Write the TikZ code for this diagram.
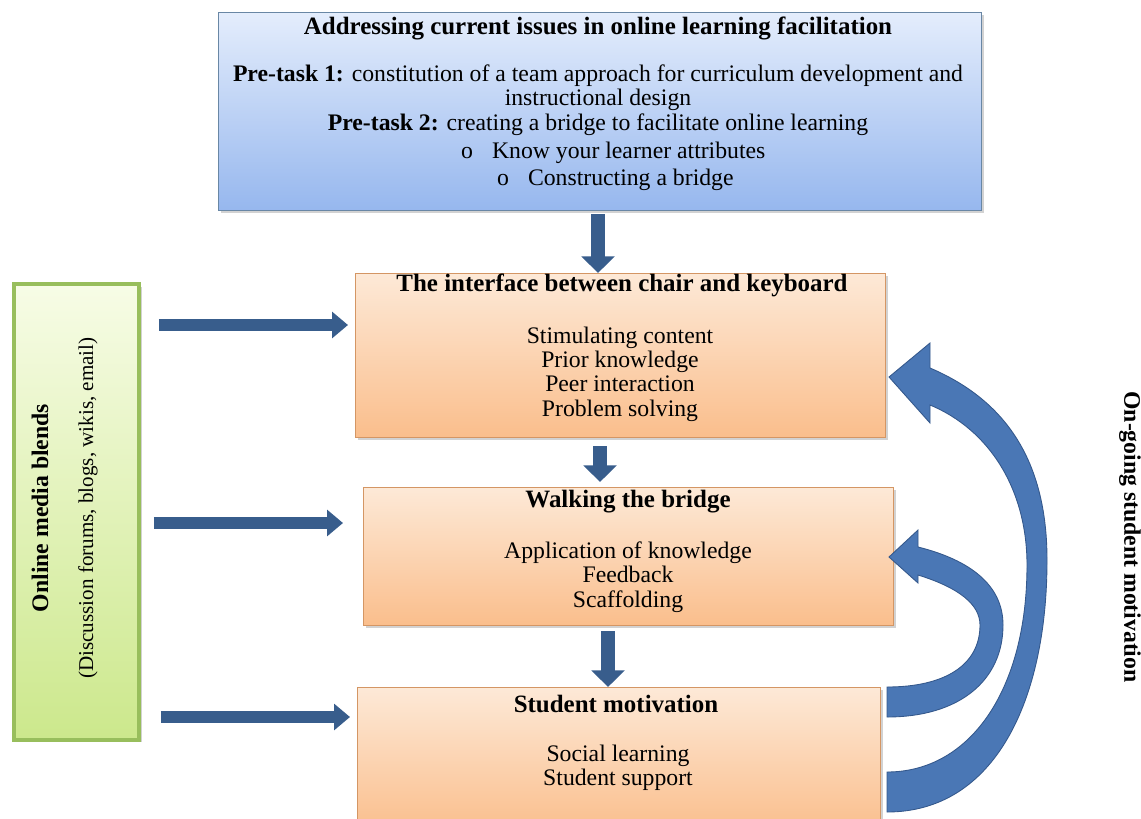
\documentclass[tikz,border=0pt]{standalone}
\usepackage{fontspec}
\setmainfont{Liberation Serif}
\usetikzlibrary{arrows.meta,positioning,shadows}

\definecolor{navyarrow}{RGB}{56,93,140}
\definecolor{curvearrow}{RGB}{74,119,181}
\definecolor{curveline}{RGB}{52,88,140}
\definecolor{bluetop}{RGB}{228,237,252}
\definecolor{bluebot}{RGB}{150,183,238}
\definecolor{blueline}{RGB}{105,135,165}
\definecolor{orangetop}{RGB}{253,233,215}
\definecolor{orangebot}{RGB}{250,190,140}
\definecolor{orangeline}{RGB}{212,150,100}
\definecolor{greentop}{RGB}{247,252,230}
\definecolor{greenbot}{RGB}{204,232,140}
\definecolor{greenline}{RGB}{152,190,92}

\tikzset{
  panel/.style={rectangle, anchor=north west, inner sep=0pt,
    drop shadow={shadow xshift=1.5pt, shadow yshift=-1.5pt, opacity=0.35}},
  issuebox/.style={panel, draw=blueline, line width=0.8pt,
    top color=bluetop, bottom color=bluebot},
  stagebox/.style={panel, draw=orangeline, line width=0.6pt,
    top color=orangetop, bottom color=orangebot},
  mediabox/.style={panel, draw=greenline, line width=2.2pt,
    top color=greentop, bottom color=greenbot},
  boxtitle/.style={font=\fontsize{14.2}{15}\selectfont\bfseries},
  boxtext/.style={align=center, font=\fontsize{13.5}{13.9}\selectfont},
  sidetitle/.style={font=\fontsize{13.5}{15}\selectfont\bfseries},
  downarrow/.style={draw=navyarrow, line width=7.5pt,
    -{Triangle[width=18.5pt,length=9.5pt]}},
  sidearrow/.style={draw=navyarrow, line width=6.8pt,
    -{Triangle[width=14.5pt,length=9pt]}},
  backarrow/.style={fill=curvearrow, draw=curveline, line width=0.5pt},
}

\begin{document}
\begin{tikzpicture}[x=0.02cm,y=-0.02cm]
\fill[white] (0,0) rectangle (1141,818);
\clip (0,0) rectangle (1141,818);

% boxes
\node[issuebox, minimum width=15.26cm, minimum height=3.96cm] (issues) at (218,12) {};
\node[stagebox, minimum width=10.6cm, minimum height=3.28cm] (chair) at (355,273) {};
\node[stagebox, minimum width=10.6cm, minimum height=2.76cm] (bridge) at (363,487) {};
\node[stagebox, minimum width=10.46cm, minimum height=2.9cm] (motive) at (357,687) {};
\node[mediabox, minimum width=2.5cm, minimum height=9.12cm] (media) at (12,282) {};

% top box text
\node[boxtitle] (issuestitle) at (598,28) {Addressing current issues in online learning facilitation};
\node[boxtext] (pretasks) at (598,100) {\textbf{Pre-task 1:} constitution of a team approach for curriculum development and\\
  instructional design\\
  \textbf{Pre-task 2:} creating a bridge to facilitate online learning};
\node[boxtext, anchor=west] (bullet1) at (455,153) {o\hspace{0.38cm}Know your learner attributes};
\node[boxtext, anchor=west] (bullet2) at (491,180) {o\hspace{0.38cm}Constructing a bridge};

% stage texts
\node[boxtitle] (chairtitle) at (622,285) {The interface between chair and keyboard};
\node[boxtext] (chairtext) at (620,374) {Stimulating content\\ Prior knowledge\\ Peer interaction\\ Problem solving};
\node[boxtitle] (bridgetitle) at (628,502) {Walking the bridge};
\node[boxtext] (bridgetext) at (628,577) {Application of knowledge\\ Feedback\\ Scaffolding};
\node[boxtitle] (motivetitle) at (616,704) {Student motivation};
\node[boxtext] (motivetext) at (618,768) {Social learning\\ Student support};

% side labels
\node[sidetitle, rotate=90] (mediatitle) at (40,508) {Online media blends};
\node[rotate=90, font=\fontsize{12}{14}\selectfont] (mediatext) at (88,508) {(Discussion forums, blogs, wikis, email)};
\node[sidetitle, rotate=-90] (ongoing) at (1130,537) {On-going student motivation};

% straight arrows
\coordinate (c1) at (598,0);
\coordinate (c2) at (600,0);
\coordinate (c3) at (608,0);
\draw[downarrow, shorten <=0.06cm] (issues.south -| c1) -- (chair.north -| c1);
\draw[downarrow, shorten <=0.16cm, shorten >=0.1cm] (chair.south -| c2) -- (bridge.north -| c2);
\draw[downarrow, shorten <=0.1cm] (bridge.south -| c3) -- (motive.north -| c3);

\coordinate (r1) at (0,325);
\coordinate (r2) at (0,523);
\coordinate (r3) at (0,717);
\draw[sidearrow, shorten <=0.36cm, shorten >=0.14cm] (media.east |- r1) -- (chair.west |- r1);
\draw[sidearrow, shorten <=0.26cm, shorten >=0.4cm] (media.east |- r2) -- (bridge.west |- r2);
\draw[sidearrow, shorten <=0.4cm, shorten >=0.14cm] (media.east |- r3) -- (motive.west |- r3);

% curved arrows back up
\filldraw[backarrow] (887,812) .. controls (995,812) and (1047,700) .. (1047,560)
  .. controls (1047,460) and (1005,400) .. (930,368) -- (930,343) -- (889,377)
  -- (930,423) -- (930,405) .. controls (990,430) and (1027,490) .. (1027,565)
  .. controls (1027,690) and (970,772) .. (887,772) -- cycle;
\filldraw[backarrow] (887,717) .. controls (960,717) and (1003,680) .. (1003,625)
  .. controls (1003,585) and (970,560) .. (918,547) -- (918,530) -- (889,557)
  -- (918,583) -- (918,575) .. controls (960,588) and (980,605) .. (980,625)
  .. controls (980,665) and (945,687) .. (887,687) -- cycle;
\end{tikzpicture}
\end{document}
